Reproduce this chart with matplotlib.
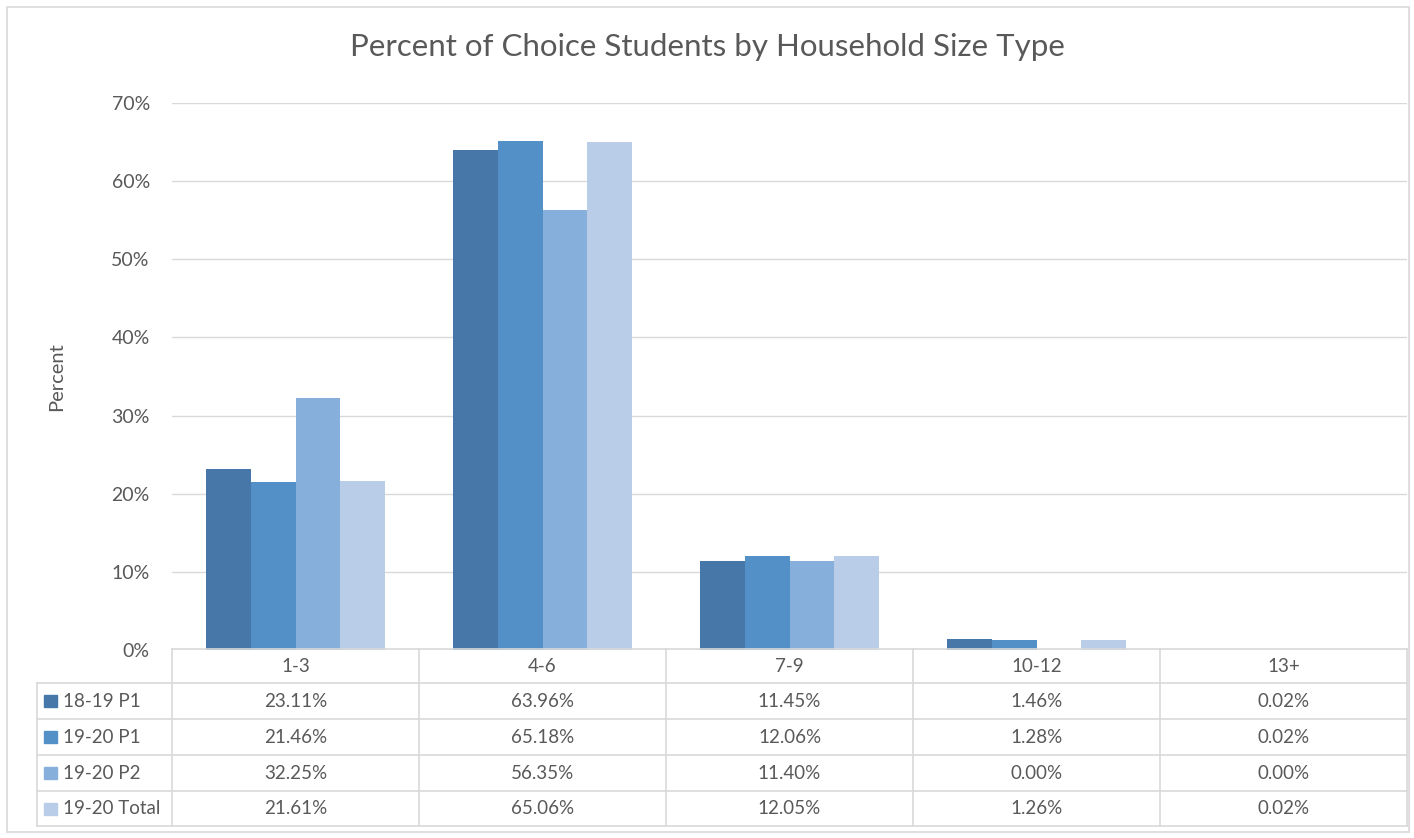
import matplotlib.pyplot as plt
from matplotlib.patches import Rectangle

plt.rcParams['font.family'] = ['Lato', 'DejaVu Sans']

categories = ["1-3", "4-6", "7-9", "10-12", "13+"]
series = ["18-19 P1", "19-20 P1", "19-20 P2", "19-20 Total"]
values = {
    "18-19 P1":    [23.11, 63.96, 11.45, 1.46, 0.02],
    "19-20 P1":    [21.46, 65.18, 12.06, 1.28, 0.02],
    "19-20 P2":    [32.25, 56.35, 11.40, 0.00, 0.00],
    "19-20 Total": [21.61, 65.06, 12.05, 1.26, 0.02],
}
colors = ["#4677A8", "#5390C7", "#86AFDB", "#B9CDE8"]
yticks = [0, 10, 20, 30, 40, 50, 60, 70]

W, H = 1414, 838
fig = plt.figure(figsize=(W / 100, H / 100), dpi=100)
txt = "#595959"
grid = "#D9D9D9"

def fx(px):
    return px / W

def fy(py):
    return 1 - py / H

# plot area in pixels
x0, x1 = 172, 1407
y_top, y_bot = 103, 650
ax = fig.add_axes([fx(x0), fy(y_bot), fx(x1 - x0), fy(y_top) - fy(y_bot)])

n = len(categories)
bw = 0.182
for i, s in enumerate(series):
    xs = [c + (i - 1.5) * bw for c in range(n)]
    ax.bar(xs, values[s], width=bw, color=colors[i], zorder=3)

ax.set_xlim(-0.5, n - 0.5)
ax.set_ylim(0, 70)
ax.set_yticks(yticks)
ax.set_yticklabels([f"{t}%" for t in yticks], color=txt, fontsize=14)
ax.tick_params(axis='y', length=0, pad=16)
ax.set_xticks([])
ax.grid(axis='y', color=grid, lw=1, zorder=0)
for sp in ax.spines.values():
    sp.set_visible(False)
ax.set_ylabel("Percent", color=txt, fontsize=14.5, labelpad=33)

fig.text(0.5, fy(47), "Percent of Choice Students by Household Size Type",
         ha='center', va='center', fontsize=22.5, color=txt)

# data table below the axis
rows = [649, 683, 719, 755, 791, 826]
left = 37
colw = (x1 - x0) / n
fs = 13.5

def hline(y, xa, xb):
    fig.add_artist(plt.Line2D([fx(xa), fx(xb)], [fy(y), fy(y)], color=grid, lw=1.2))

def vline(x, ya, yb):
    fig.add_artist(plt.Line2D([fx(x), fx(x)], [fy(ya), fy(yb)], color=grid, lw=1.2))

hline(rows[0], x0, x1)
for y in rows[1:]:
    hline(y, left, x1)
vline(left, rows[1], rows[-1])
for j in range(n + 1):
    vline(x0 + j * colw, rows[0], rows[-1])

for j, c in enumerate(categories):
    fig.text(fx(x0 + (j + 0.5) * colw), fy((rows[0] + rows[1]) / 2), c,
             ha='center', va='center', fontsize=fs, color=txt)

for i, s in enumerate(series):
    yc = (rows[i + 1] + rows[i + 2]) / 2
    fig.add_artist(Rectangle((fx(44), fy(yc + 6)), fx(13), fy(yc - 6) - fy(yc + 6),
                             color=colors[i], transform=fig.transFigure))
    fig.text(fx(63), fy(yc), s, ha='left', va='center', fontsize=fs, color=txt)
    for j, v in enumerate(values[s]):
        fig.text(fx(x0 + (j + 0.5) * colw), fy(yc), f"{v:.2f}%",
                 ha='center', va='center', fontsize=fs, color=txt)

# chart border
fig.add_artist(Rectangle((fx(7), fy(832)), fx(1409 - 7), fy(7) - fy(832),
                         fill=False, edgecolor=grid, lw=1.2, transform=fig.transFigure))

fig.savefig("out.png", dpi=100)
